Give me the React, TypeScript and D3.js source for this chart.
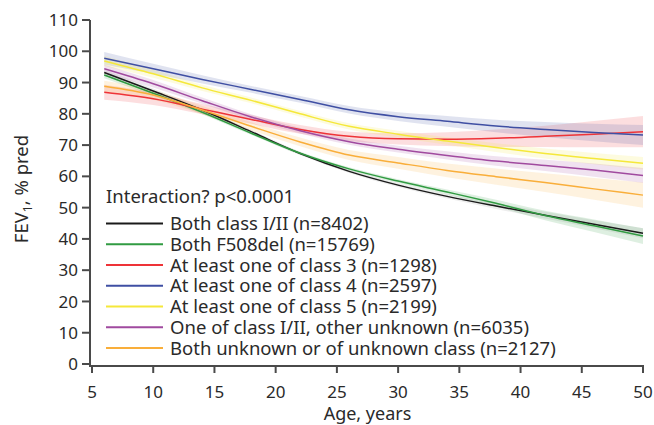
import React from "react";
import * as d3 from "d3";

const ages = [6, 10, 14, 18, 22, 26, 30, 34, 38, 42, 46, 50];

const seriesNames = [
  "Both class I/II (n=8402)",
  "Both F508del (n=15769)",
  "At least one of class 3 (n=1298)",
  "At least one of class 4 (n=2597)",
  "At least one of class 5 (n=2199)",
  "One of class I/II, other unknown (n=6035)",
  "Both unknown or of unknown class (n=2127)",
];

const seriesColors = ["#1a1a1a", "#319b42", "#ee3338", "#3f4fa3", "#f5e83a", "#a04a9f", "#f9ae3a"];

const bothClass12 = [93.2, 87.3, 81.2, 74.3, 67.3, 61.6, 57.2, 53.6, 50.5, 47.6, 44.7, 41.8];
const bothF508del = [92.4, 86.6, 80.5, 73.8, 67.4, 62.4, 58.5, 55.0, 51.4, 47.5, 44.2, 40.9];
const class3 = [86.9, 84.8, 81.5, 78.2, 75.0, 72.8, 72.0, 71.9, 72.2, 72.8, 73.5, 74.3];
const class4 = [97.8, 94.4, 91.0, 87.8, 84.6, 81.3, 79.1, 77.6, 76.1, 75.0, 74.0, 73.2];
const class5 = [96.9, 92.8, 88.3, 84.3, 80.0, 76.0, 73.5, 71.3, 69.2, 67.3, 65.7, 64.2];
const oneClass12Unknown = [94.4, 89.6, 84.2, 79.0, 74.6, 71.1, 68.7, 66.7, 64.9, 63.5, 62.0, 60.3];
const bothUnknown = [88.8, 86.0, 81.2, 76.0, 71.0, 66.8, 64.3, 61.9, 59.9, 58.0, 56.0, 54.0];

const ciBothClass12 = [1.0, 0.8, 0.6, 0.5, 0.5, 0.5, 0.6, 0.7, 0.9, 1.1, 1.3, 1.6];
const ciBothF508del = [1.0, 0.8, 0.6, 0.5, 0.5, 0.5, 0.6, 0.8, 1.1, 1.5, 2.0, 2.5];
const ciClass3 = [2.4, 2.0, 1.6, 1.4, 1.4, 1.5, 1.8, 2.2, 2.8, 3.4, 4.2, 5.0];
const ciClass4 = [2.0, 1.6, 1.3, 1.1, 1.1, 1.2, 1.4, 1.7, 2.0, 2.4, 2.8, 3.2];
const ciClass5 = [1.6, 1.3, 1.0, 0.9, 0.9, 1.0, 1.1, 1.2, 1.4, 1.6, 1.8, 2.0];
const ciOneClass12Unknown = [1.4, 1.2, 1.0, 0.9, 0.9, 1.0, 1.1, 1.3, 1.5, 1.8, 2.1, 2.4];
const ciBothUnknown = [1.8, 1.5, 1.3, 1.3, 1.4, 1.6, 1.9, 2.2, 2.6, 3.0, 3.5, 4.0];

const seriesValues = [bothClass12, bothF508del, class3, class4, class5, oneClass12Unknown, bothUnknown];
const seriesCI = [ciBothClass12, ciBothF508del, ciClass3, ciClass4, ciClass5, ciOneClass12Unknown, ciBothUnknown];

const xTicks = [5, 10, 15, 20, 25, 30, 35, 40, 45, 50];
const yTicks = [0, 10, 20, 30, 40, 50, 60, 70, 80, 90, 100, 110];
const legendTitle = "Interaction? p<0.0001";

const W = 654;
const H = 425;
const FONT = "'Noto Sans', sans-serif";
const TEXT = "#2a2a2a";
const AXIS = "#4a4a4a";

export default function App() {
  const x = d3.scaleLinear().domain([5, 50]).range([92, 643]);
  const y = d3.scaleLinear().domain([0, 110]).range([364, 20]);
  const axisY = 366;
  const axisX = 90;

  const line = d3
    .line<number>()
    .x((_, i) => x(ages[i]))
    .y((d) => y(d))
    .curve(d3.curveMonotoneX);

  const bands = seriesValues.map((vals, s) =>
    d3
      .area<number>()
      .x((_, i) => x(ages[i]))
      .y0((d, i) => y(d - seriesCI[s][i]))
      .y1((d, i) => y(d + seriesCI[s][i]))
      .curve(d3.curveMonotoneX)(vals)
  );

  const legendX = 106;
  const legendY0 = 223.5;
  const legendStep = 20.75;

  return (
    <svg
      width={W}
      height={H}
      style={{ position: "absolute", left: 0, top: 0, background: "#fff" }}
      fontFamily={FONT}
    >
      {bands.map((d, s) => (
        <path key={"b" + s} d={d || ""} fill={seriesColors[s]} opacity={s === 0 ? 0.08 : 0.16} stroke="none" />
      ))}
      {seriesValues.map((vals, s) => (
        <path key={"l" + s} d={line(vals) || ""} fill="none" stroke={seriesColors[s]} strokeWidth={1.5} />
      ))}

      {/* y axis */}
      <line x1={axisX} x2={axisX} y1={y(110)} y2={axisY + 1} stroke={AXIS} strokeWidth={2} />
      {yTicks.map((t) => (
        <g key={"yt" + t}>
          <line x1={axisX - 8} x2={axisX} y1={y(t)} y2={y(t)} stroke={AXIS} strokeWidth={2} />
          <text x={78} y={y(t)} dy="0.36em" textAnchor="end" fontSize={17} fill={TEXT}>
            {t}
          </text>
        </g>
      ))}

      {/* x axis */}
      <line x1={axisX - 1} x2={x(50) + 1} y1={axisY} y2={axisY} stroke={AXIS} strokeWidth={2} />
      {xTicks.map((t) => (
        <g key={"xt" + t}>
          <line x1={x(t)} x2={x(t)} y1={axisY} y2={axisY + 7} stroke={AXIS} strokeWidth={2} />
          <text x={x(t)} y={398} textAnchor="middle" fontSize={17} fill={TEXT}>
            {t}
          </text>
        </g>
      ))}

      <text x={(x(5) + x(50)) / 2} y={419.5} textAnchor="middle" fontSize={18} fill={TEXT}>
        Age, years
      </text>
      <text transform={`translate(28,189) rotate(-90)`} textAnchor="middle" fontSize={18.5} fill={TEXT}>
        FEV
        <tspan fontSize={12} dy="4">1</tspan>
        <tspan dy="-4">, % pred</tspan>
      </text>

      {/* legend */}
      <text x={legendX} y={202.5} fontSize={18.5} fill={TEXT}>
        {legendTitle}
      </text>
      {seriesNames.map((name, i) => {
        const ly = legendY0 + i * legendStep;
        return (
          <g key={"lg" + i}>
            <line x1={legendX} x2={163} y1={ly} y2={ly} stroke={seriesColors[i]} strokeWidth={2} />
            <text x={170} y={ly} dy="0.36em" fontSize={18.5} fill={TEXT}>
              {name}
            </text>
          </g>
        );
      })}
    </svg>
  );
}
